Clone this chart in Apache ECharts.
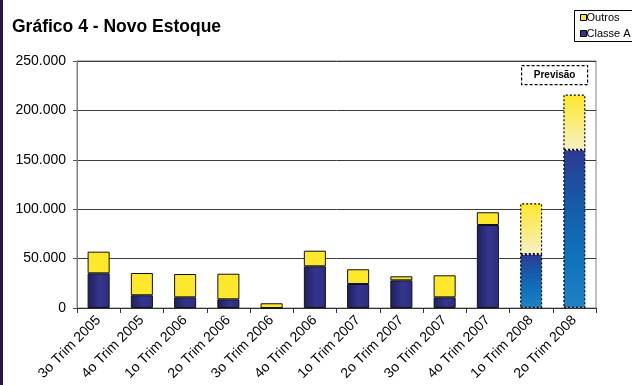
<!DOCTYPE html>
<html>
<head>
<meta charset="utf-8">
<script src="https://cdn.jsdelivr.net/npm/echarts@6/dist/echarts.min.js"></script>
<style>
  html, body { margin: 0; padding: 0; background: #fff; overflow: hidden; }
  #strip { position: absolute; left: 0; top: 0; width: 3px; height: 385px; background: #2d1245; }
  #chart { width: 632px; height: 385px; }
</style>
</head>
<body>
<div id="chart"></div>
<div id="strip"></div>
<script>
// Trimestres (os dois últimos são previsão)
const categories = [
  '3o Trim 2005', '4o Trim 2005', '1o Trim 2006', '2o Trim 2006',
  '3o Trim 2006', '4o Trim 2006', '1o Trim 2007', '2o Trim 2007',
  '3o Trim 2007', '4o Trim 2007', '1o Trim 2008', '2o Trim 2008'
];
// Unidades lançadas por trimestre
const classeA = [35100, 12900, 10800, 8800, 0, 42200, 24300, 28000, 10800, 84000, 54400, 160000];
const outros  = [21900, 22500, 23600, 25900, 4800, 15800, 14900, 4100, 22300, 12900, 51600, 56000];
const forecastFrom = 10; // índice do primeiro trimestre de previsão
const yTicks = [0, 50000, 100000, 150000, 200000, 250000];

const fontFamily = 'Arial, "Liberation Sans", sans-serif';

const navyHist = {
  type: 'linear', x: 0, y: 0, x2: 1, y2: 0,
  colorStops: [
    { offset: 0, color: '#1f1f5c' },
    { offset: 0.55, color: '#35358f' },
    { offset: 1, color: '#2c2c80' }
  ]
};
const blueForecast = {
  type: 'linear', x: 0, y: 0, x2: 0, y2: 1,
  colorStops: [
    { offset: 0, color: '#2e3a92' },
    { offset: 0.3, color: '#1658a6' },
    { offset: 0.7, color: '#0f74bd' },
    { offset: 1, color: '#2281c4' }
  ]
};
const yellowForecast = {
  type: 'linear', x: 0, y: 0, x2: 0, y2: 1,
  colorStops: [
    { offset: 0, color: '#fde82b' },
    { offset: 1, color: '#f6f0c4' }
  ]
};

function buildData(values, histColor, fcColor) {
  return values.map((v, i) => {
    if (i >= forecastFrom) {
      return {
        value: v,
        itemStyle: { color: fcColor, borderColor: '#000', borderWidth: 1.2, borderType: [2, 2] }
      };
    }
    return { value: v, itemStyle: { color: histColor, borderColor: '#111', borderWidth: 1 } };
  });
}

const chart = echarts.init(document.getElementById('chart'), null, { renderer: 'canvas' });

chart.setOption({
  animation: false,
  title: {
    text: 'Gráfico 4 - Novo Estoque',
    left: 7, top: 13,
    textStyle: { fontFamily, fontSize: 17.5, fontWeight: 'bold', color: '#000' }
  },
  legend: {
    data: [
      { name: 'Outros', itemStyle: { color: '#fde82b', borderColor: '#000', borderWidth: 1 } },
      { name: 'Classe A', itemStyle: { color: '#34348e', borderColor: '#000', borderWidth: 1 } }
    ],
    orient: 'vertical',
    left: 574, top: 10,
    padding: [2, 0, 2, 6],
    itemGap: 5,
    itemWidth: 6, itemHeight: 6,
    icon: 'rect',
    borderWidth: 0,
    selectedMode: false,
    z: 10,
    textStyle: { fontFamily, fontSize: 11, color: '#000', padding: [0, 0, 0, -5] }
  },
  grid: {
    left: 77, right: 36, top: 61, bottom: 77,
    show: true, borderColor: '#808080', borderWidth: 1
  },
  xAxis: {
    type: 'category',
    data: categories,
    axisLine: { lineStyle: { color: '#333', width: 1 } },
    axisTick: { show: true, alignWithLabel: false, length: 5, lineStyle: { color: '#333' } },
    axisLabel: {
      rotate: 45, interval: 0, margin: 10,
      fontFamily, fontSize: 14, color: '#000'
    }
  },
  yAxis: {
    type: 'value',
    min: yTicks[0], max: yTicks[yTicks.length - 1], interval: yTicks[1] - yTicks[0],
    axisLine: { show: true, lineStyle: { color: '#808080' } },
    axisTick: { show: true, length: 4, lineStyle: { color: '#555' } },
    splitLine: { lineStyle: { color: '#3a3a3a', width: 1 } },
    axisLabel: {
      margin: 11, fontFamily, fontSize: 14, color: '#000',
      formatter: v => v === 0 ? '0' : v.toLocaleString('de-DE')
    }
  },
  series: [
    {
      name: 'Classe A', type: 'bar', stack: 'total', barWidth: '51%',
      itemStyle: { color: '#34348e' },
      data: buildData(classeA, navyHist, blueForecast)
    },
    {
      name: 'Outros', type: 'bar', stack: 'total', barWidth: '51%',
      itemStyle: { color: '#fde82b' },
      data: buildData(outros, '#fde82b', yellowForecast)
    }
  ],
  graphic: [
    {
      // moldura da legenda, que continua além da borda direita
      type: 'rect', left: 574, top: 10, z: 1,
      shape: { width: 80, height: 31 },
      style: { fill: '#fff', stroke: '#000', lineWidth: 1 }
    },
    {
      type: 'group', left: 521, top: 65,
      children: [
        {
          type: 'rect', shape: { x: 0, y: 0, width: 66, height: 19 },
          style: { fill: '#fff', stroke: '#000', lineWidth: 1.2, lineDash: [3, 2] }
        },
        {
          type: 'text', x: 33, y: 10,
          style: {
            text: 'Previsão', align: 'center', verticalAlign: 'middle',
            font: 'bold 10px Arial, "Liberation Sans", sans-serif', fill: '#000'
          }
        }
      ]
    }
  ]
});
</script>
</body>
</html>
